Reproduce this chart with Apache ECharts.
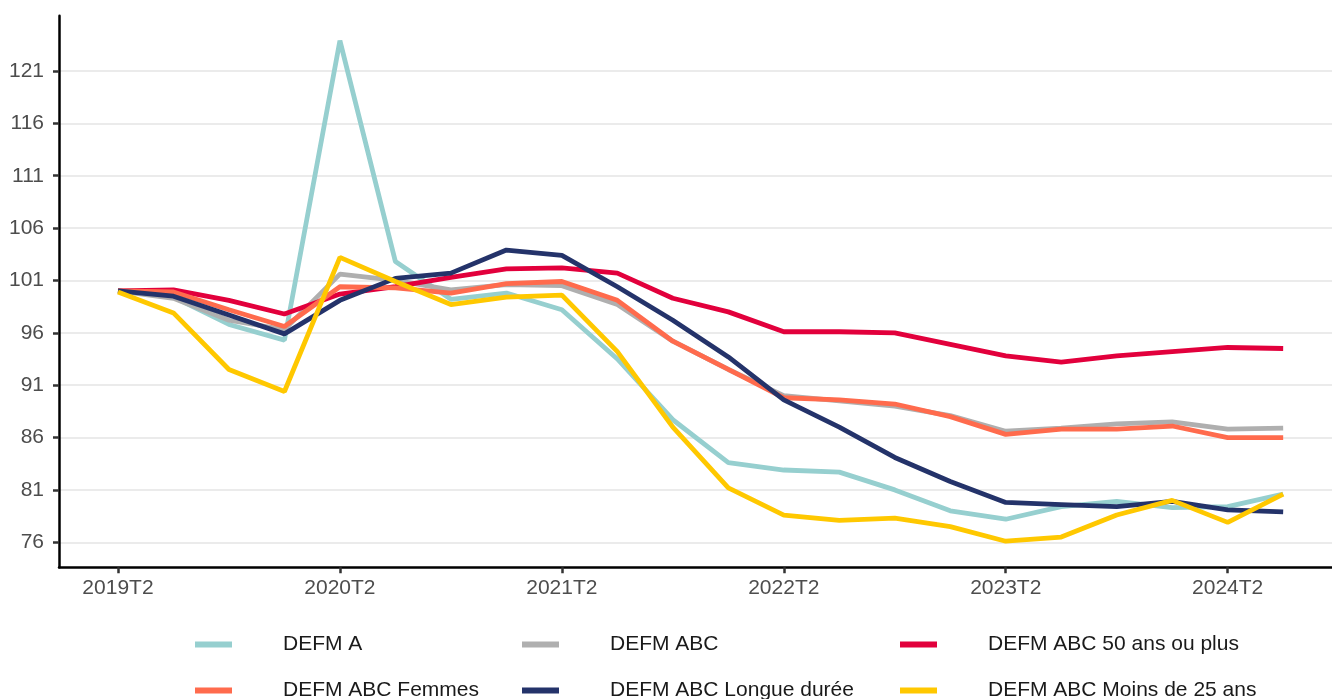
<!DOCTYPE html>
<html>
<head>
<meta charset="utf-8">
<script src="https://cdn.jsdelivr.net/npm/echarts@6/dist/echarts.min.js"></script>
<style>
html, body { margin: 0; padding: 0; background: #fff; }
#chart { width: 1332px; height: 699px; }
</style>
</head>
<body>
<div id="chart"></div>
<script>
var quarters = ['2019T2', '2019T3', '2019T4', '2020T1', '2020T2', '2020T3', '2020T4', '2021T1',
  '2021T2', '2021T3', '2021T4', '2022T1', '2022T2', '2022T3', '2022T4', '2023T1',
  '2023T2', '2023T3', '2023T4', '2024T1', '2024T2', '2024T3'];
var xTicks = [0, 4, 8, 12, 16, 20];
var yTicks = [76, 81, 86, 91, 96, 101, 106, 111, 116, 121];

var defmA = [100, 99.4, 96.8, 95.3, 123.9, 102.8, 99.2, 99.8, 98.2, 93.5, 87.7, 83.6, 82.9, 82.7, 81.0, 79.0, 78.2, 79.4, 79.9, 79.3, 79.4, 80.6];
var defmABC = [100, 99.3, 97.2, 96.3, 101.6, 101.0, 100.1, 100.6, 100.5, 98.7, 95.2, 92.5, 90.0, 89.5, 89.0, 88.1, 86.6, 86.9, 87.3, 87.5, 86.8, 86.9];
var defm50 = [100, 100.1, 99.1, 97.8, 99.7, 100.4, 101.3, 102.1, 102.2, 101.7, 99.3, 98.0, 96.1, 96.1, 96.0, 94.9, 93.8, 93.2, 93.8, 94.2, 94.6, 94.5];
var defmFemmes = [100, 99.9, 98.2, 96.6, 100.4, 100.3, 99.8, 100.7, 100.9, 99.1, 95.2, 92.5, 89.8, 89.6, 89.2, 88.0, 86.3, 86.8, 86.8, 87.1, 86.0, 86.0];
var defmLongue = [100, 99.5, 97.7, 95.9, 99.1, 101.2, 101.7, 103.9, 103.4, 100.4, 97.2, 93.7, 89.6, 87.0, 84.1, 81.8, 79.8, 79.6, 79.4, 79.9, 79.1, 78.9];
var defmMoins25 = [99.9, 97.9, 92.5, 90.4, 103.2, 100.9, 98.7, 99.4, 99.6, 94.2, 87.0, 81.2, 78.6, 78.1, 78.3, 77.5, 76.1, 76.5, 78.6, 80.0, 77.9, 80.6];

var seriesNames = ['DEFM A', 'DEFM ABC', 'DEFM ABC 50 ans ou plus', 'DEFM ABC Femmes', 'DEFM ABC Longue durée', 'DEFM ABC Moins de 25 ans'];
var seriesValues = [defmA, defmABC, defm50, defmFemmes, defmLongue, defmMoins25];
var seriesColors = ['#96cfcf', '#afafaf', '#e2003c', '#ff6b4d', '#24336a', '#ffc800'];

var font = 'Liberation Sans, Arial, sans-serif';

// legend placement : 3 columns, 2 rows
var legendLeft = [195, 522, 900, 195, 522, 900];
var legendTop = [634, 634, 634, 680, 680, 680];

var chart = echarts.init(document.getElementById('chart'));

var series = seriesNames.map(function (name, i) {
  return {
    name: name,
    type: 'line',
    color: seriesColors[i],
    showSymbol: false,
    lineStyle: { width: 4.8, color: seriesColors[i] },
    data: seriesValues[i].map(function (v, j) { return [j, v]; })
  };
});

var legends = seriesNames.map(function (name, i) {
  return {
    left: legendLeft[i],
    top: legendTop[i],
    icon: 'rect',
    itemWidth: 37,
    itemHeight: 6,
    padding: 0,
    data: [name],
    textStyle: { fontFamily: font, fontSize: 21, color: '#1a1a1a', padding: [0, 0, 0, 46] }
  };
});

var option = {
  animation: false,
  backgroundColor: '#fff',
  grid: { left: 59, right: 0, top: 15.7, bottom: 131.7, containLabel: false },
  legend: legends,
  xAxis: {
    type: 'value',
    min: -1.063,
    max: 21.88,
    axisLine: { show: true, onZero: false, lineStyle: { color: '#000', width: 2.5 } },
    axisTick: { show: true, customValues: xTicks, length: 6, lineStyle: { color: '#333', width: 2.5 } },
    axisLabel: {
      customValues: xTicks,
      margin: 10,
      fontFamily: font, fontSize: 21, color: '#4d4d4d',
      formatter: function (v) { return quarters[Math.round(v)]; }
    },
    splitLine: { show: false }
  },
  yAxis: {
    type: 'value',
    min: 73.61,
    max: 126.28,
    axisLine: { show: true, onZero: false, lineStyle: { color: '#000', width: 2.5 } },
    axisTick: { show: true, customValues: yTicks, length: 6, lineStyle: { color: '#333', width: 2.5 } },
    axisLabel: { customValues: yTicks, margin: 15, fontFamily: font, fontSize: 21, color: '#4d4d4d' },
    splitLine: { show: true, lineStyle: { color: '#ebebeb', width: 2 } }
  },
  series: series
};

chart.setOption(option);
</script>
</body>
</html>
